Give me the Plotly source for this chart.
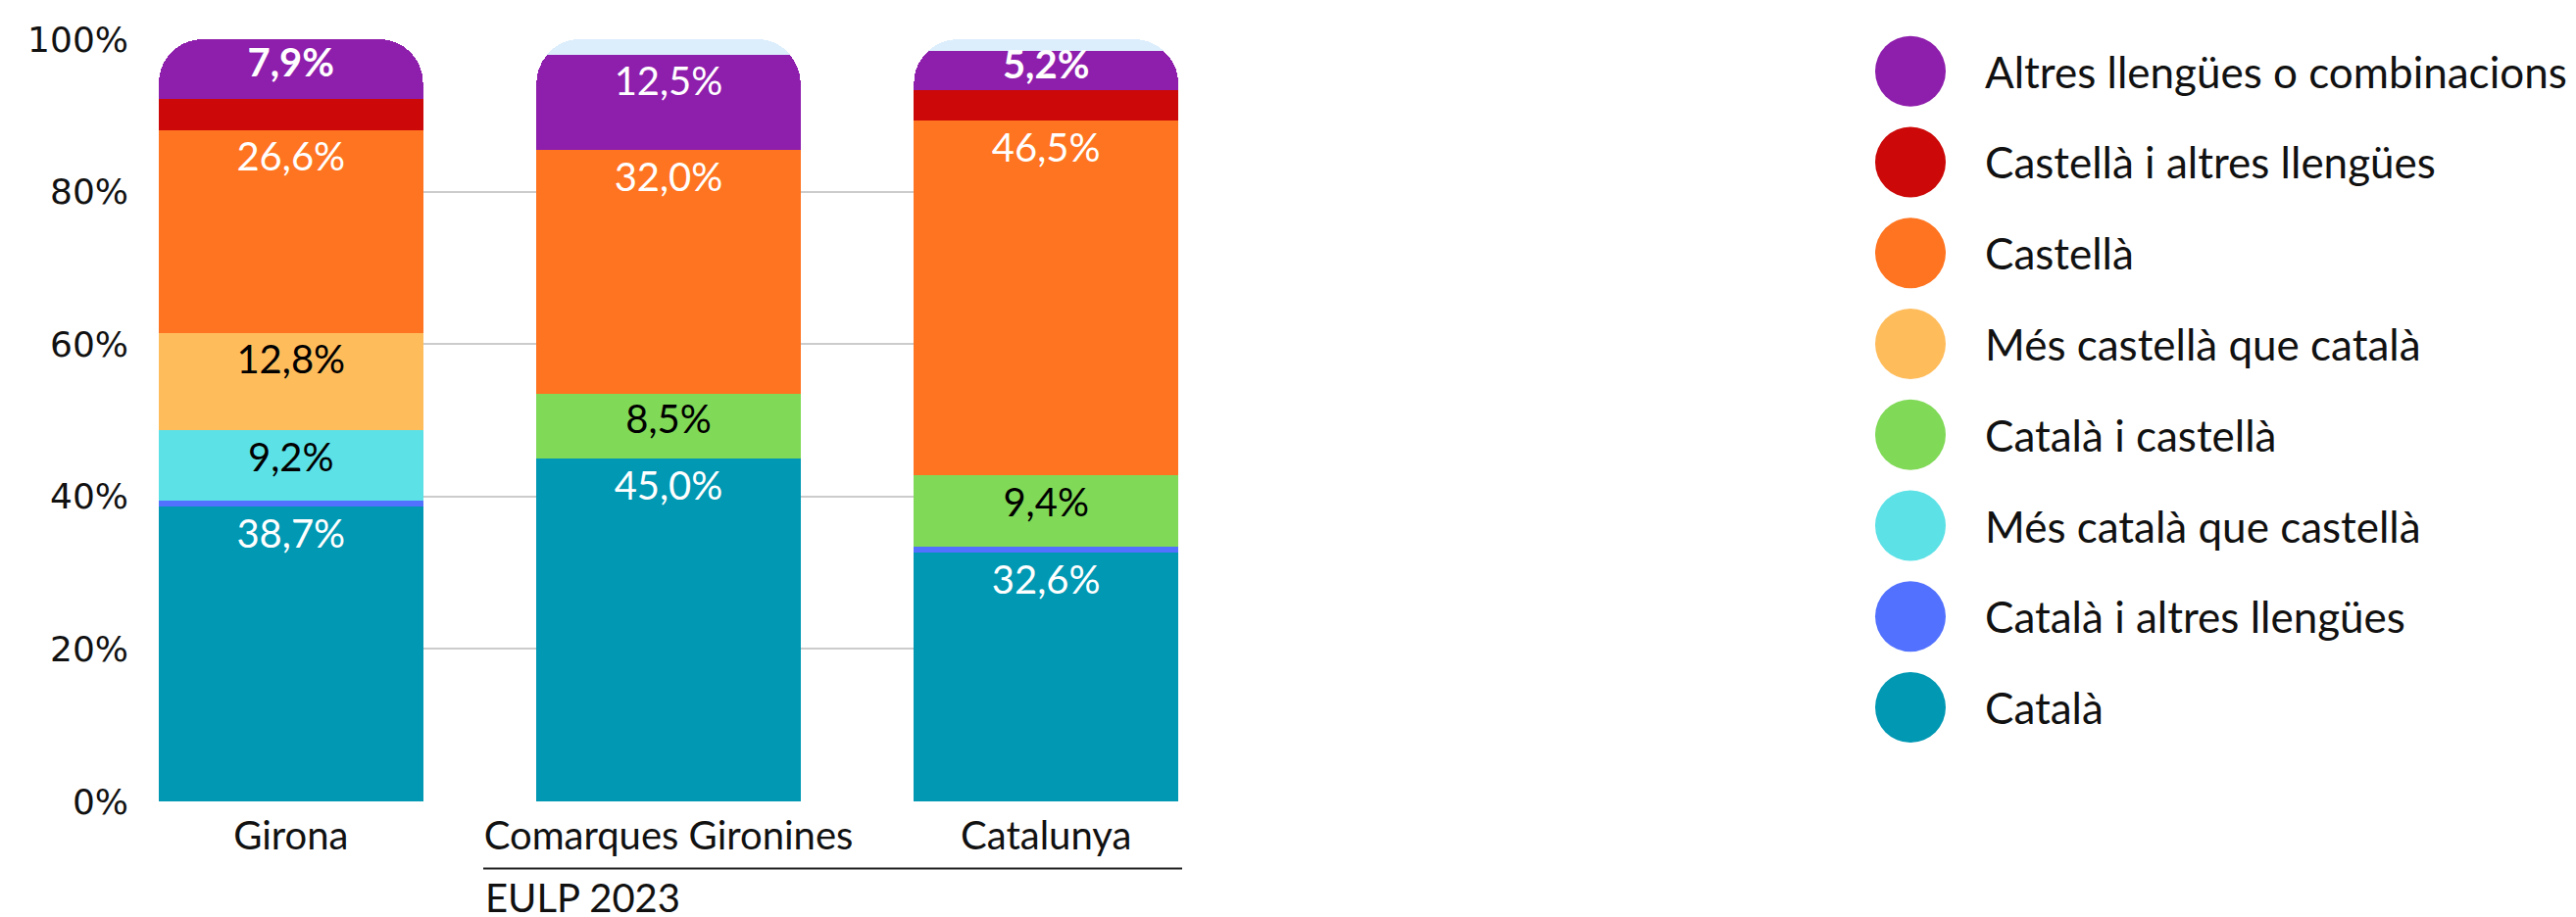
import plotly.graph_objects as go

# ---------------- data ----------------
categories = ["Girona", "Comarques Gironines", "Catalunya"]

series_names = [
    "Català",
    "Català i altres llengües",
    "Més català que castellà",
    "Català i castellà",
    "Més castellà que català",
    "Castellà",
    "Castellà i altres llengües",
    "Altres llengües o combinacions",
]

catala = [38.7, 45.0, 32.6]
catala_altres = [0.8, None, 0.8]
mes_catala = [9.2, None, None]
catala_castella = [None, 8.5, 9.4]
mes_castella = [12.8, None, None]
castella = [26.6, 32.0, 46.5]
castella_altres = [4.0, None, 4.0]
altres = [7.9, 12.5, 5.2]
resta = [None, 2.0, 1.5]  # part sense dades (fons blau clar)

altres_bold = [True, False, True]

y_tickvals = [0, 20, 40, 60, 80, 100]
y_ticktext = ["0%", "20%", "40%", "60%", "80%", "100%"]

series_values = [catala, catala_altres, mes_catala, catala_castella,
                 mes_castella, castella, castella_altres, altres]

colors = ["#0098B3", "#5271FF", "#5CE1E6", "#80D957",
          "#FFBC5B", "#FF7420", "#CC0808", "#8E1EAC"]
show_labels = [True, False, True, True, True, True, False, True]
label_colors = ["white", "white", "black", "black", "black", "white", "white", "white"]

LABEL_FONT = "Lato, 'Open Sans', sans-serif"

# ---------------- geometry ----------------
W, H = 2628, 936
OFF = 8  # page offset of the figure in the browser
L = 162 - OFF
T = 33 - OFF
plot_right = 1202 - OFF
plot_bottom = 818 - OFF
R = W - plot_right
B = H - plot_bottom
plot_w = plot_right - L
plot_h = plot_bottom - T
px_per_unit = plot_h / 100.0


def px_x(px):
    return (px - OFF - L) / plot_w


def px_y(py):
    return (plot_bottom - (py - OFF)) / plot_h


def fmt(v, bold=False):
    s = f"{v:.1f}%".replace(".", ",")
    return f"<b>{s}</b>" if bold else s


fig = go.Figure()

for i, (name, vals) in enumerate(zip(series_names, series_values)):
    fig.add_trace(go.Bar(
        x=categories, y=vals, name=name,
        marker=dict(color=colors[i], line=dict(width=0)),
        textposition="none",
        width=0.70, showlegend=False, hoverinfo="skip",
    ))

fig.add_trace(go.Bar(
    x=categories, y=resta, name="resta",
    marker=dict(color="#DCEEFC", line=dict(width=0)),
    textposition="none",
    width=0.70, showlegend=False, hoverinfo="skip",
))

# ---------------- value labels (text near the top of each segment) ----------------
cum = [0.0] * len(categories)
for i, (name, vals) in enumerate(zip(series_names, series_values)):
    xs, ys, ts = [], [], []
    for j, v in enumerate(vals):
        if v is None:
            continue
        top = cum[j] + v
        cum[j] = top
        if not show_labels[i]:
            continue
        off = min(32.0 / px_per_unit, v * 0.45)
        xs.append(categories[j])
        ys.append(top - off)
        bold = altres_bold[j] if name == "Altres llengües o combinacions" else False
        ts.append(fmt(v, bold))
    if xs:
        fig.add_trace(go.Scatter(
            x=xs, y=ys, text=ts, mode="text", textposition="middle center",
            textfont=dict(family=LABEL_FONT, size=40, color=label_colors[i]),
            showlegend=False, hoverinfo="skip",
        ))

fig.update_layout(
    width=W, height=H,
    margin=dict(l=L, r=R, t=T, b=B, pad=0),
    barmode="stack",
    barcornerradius=45,
    plot_bgcolor="white", paper_bgcolor="white",
    showlegend=False,
    xaxis=dict(
        type="category", range=[-0.35, 2.35],
        showgrid=False, showline=False, zeroline=False, ticks="",
        tickfont=dict(family=LABEL_FONT, size=40, color="#111111"),
        ticklabelstandoff=8,
    ),
    yaxis=dict(
        range=[0, 100], tickvals=y_tickvals, ticktext=y_ticktext,
        showgrid=True, gridcolor="#cccccc", gridwidth=1.5,
        zeroline=False, showline=False, ticks="",
        tickfont=dict(family="'DejaVu Sans', Verdana, sans-serif", size=36, color="#111111"),
        ticklabelstandoff=30,
    ),
)

# group line and label under the x axis
fig.add_shape(type="line", xref="paper", yref="paper",
              x0=px_x(493), x1=px_x(1206), y0=px_y(887), y1=px_y(887),
              line=dict(color="#222222", width=2))
fig.add_annotation(xref="paper", yref="paper", x=px_x(493), y=px_y(917),
                   xanchor="left", yanchor="middle", showarrow=False,
                   text="EULP 2023",
                   font=dict(family=LABEL_FONT, size=40, color="#111111"))

# custom legend (big circles)
legend_order = list(range(len(series_names)))[::-1]
legend_cx = 1949
legend_tx = 2023
legend_y0 = 66
legend_dy = 93.6
for k, idx in enumerate(legend_order):
    cy = legend_y0 + k * legend_dy
    fig.add_shape(type="circle", xref="paper", yref="paper",
                  xsizemode="pixel", ysizemode="pixel",
                  xanchor=px_x(legend_cx), yanchor=px_y(cy),
                  x0=-36, x1=36, y0=-36, y1=36,
                  fillcolor=colors[idx], line=dict(width=0))
    fig.add_annotation(xref="paper", yref="paper", x=px_x(legend_tx), y=px_y(cy),
                       xanchor="left", yanchor="middle", showarrow=False,
                       text=series_names[idx],
                       font=dict(family=LABEL_FONT, size=44, color="#111111"))

fig.write_html("out.html")
